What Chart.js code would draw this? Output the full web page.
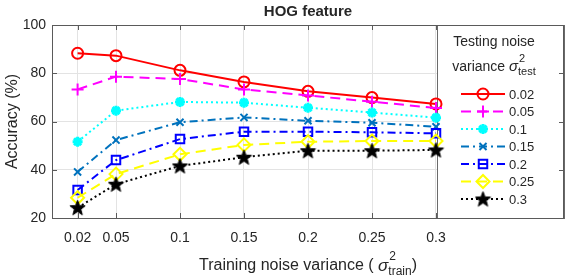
<!DOCTYPE html>
<html><head><meta charset="utf-8">
<script src="https://cdn.jsdelivr.net/npm/chart.js@4"></script>
<style>html,body{margin:0;padding:0;background:#fff;}#wrap{width:573px;height:276px;}</style>
</head><body><div id="wrap"><canvas id="c" width="573" height="276"></canvas></div>
<script>
// ---- data ----
const trainVar = [0.02, 0.05, 0.1, 0.15, 0.2, 0.25, 0.3];
const testVarLabels = ['0.02', '0.05', '0.1', '0.15', '0.2', '0.25', '0.3'];
const yTicks = [20, 40, 60, 80, 100];
const acc_002 = [88.3, 87.3, 81.2, 76.4, 72.5, 69.9, 67.3];
const acc_005 = [73.3, 78.6, 77.6, 73.3, 70.8, 68.2, 65.6];
const acc_01  = [51.6, 64.5, 68.1, 67.8, 65.7, 63.7, 61.6];
const acc_015 = [39.1, 52.3, 59.7, 61.7, 60.3, 59.5, 57.8];
const acc_02  = [31.6, 44.0, 52.7, 55.8, 55.8, 55.5, 55.1];
const acc_025 = [28.4, 38.2, 46.4, 50.3, 51.6, 51.9, 51.9];
const acc_03  = [24.3, 34.0, 41.6, 45.2, 47.9, 47.9, 48.2];
const chartTitle = 'HOG feature';
const yTitle = 'Accuracy (%)';

const FONT = "'Liberation Sans', Arial, Helvetica, sans-serif";
const TXT = '#262626';

// pentagram marker
function makePentagram(size, color) {
  const cv = document.createElement('canvas');
  cv.width = size; cv.height = size;
  const g = cv.getContext('2d');
  const cx = size / 2, cy = size / 2 + 0.6, R = size / 2 - 0.5, r = R * 0.42;
  g.beginPath();
  for (let i = 0; i < 10; i++) {
    const a = -Math.PI / 2 + i * Math.PI / 5;
    const rr = i % 2 === 0 ? R : r;
    const px = cx + rr * Math.cos(a), py = cy + rr * Math.sin(a);
    if (i === 0) g.moveTo(px, py); else g.lineTo(px, py);
  }
  g.closePath();
  g.fillStyle = color; g.fill();
  g.strokeStyle = color; g.lineWidth = 1; g.stroke();
  return cv;
}
const starImg = makePentagram(17, '#000');

const series = [
  {label: testVarLabels[0], data: acc_002, color: '#ff0000', dash: [], ps: 'circle', r: 5.5, bw: 2},
  {label: testVarLabels[1], data: acc_005, color: '#ff00ff', dash: [10, 6], ps: 'cross', r: 6, bw: 2},
  {label: testVarLabels[2], data: acc_01,  color: '#00ffff', dash: [2, 3], ps: 'star', r: 5, bw: 3},
  {label: testVarLabels[3], data: acc_015, color: '#0072bd', dash: [8, 4, 2, 4], ps: 'crossRot', r: 5, bw: 2},
  {label: testVarLabels[4], data: acc_02,  color: '#0000ff', dash: [8, 4, 2, 4], ps: 'rect', r: 6, bw: 2},
  {label: testVarLabels[5], data: acc_025, color: '#ffff00', dash: [10, 6], ps: 'rectRot', r: 6.5, bw: 2},
  {label: testVarLabels[6], data: acc_03,  color: '#000000', dash: [2, 3], ps: starImg, r: 8, bw: 1},
];

const datasets = series.map((s, i) => ({
  label: s.label,
  data: trainVar.map((x, j) => ({x: x, y: s.data[j]})),
  borderColor: s.color,
  backgroundColor: 'rgba(0,0,0,0)',
  borderWidth: 2,
  borderDash: s.dash,
  pointStyle: s.ps,
  pointRadius: s.r,
  pointBorderWidth: s.bw,
  pointBorderColor: s.color,
  pointBackgroundColor: s.color === '#00ffff' ? s.color : 'rgba(0,0,0,0)',
  tension: 0,
  fill: false,
  order: series.length - i
}));

function legendLeft(ca) { return ca.right - 127; }

const overlay = {
  id: 'overlay',
  beforeDatasetsDraw(chart) {
    const ctx = chart.ctx, ca = chart.chartArea;
    const lx = legendLeft(ca);
    ctx.save();
    ctx.fillStyle = '#fff';
    ctx.fillRect(lx, ca.top, ca.right - lx, ca.bottom - ca.top);
    ctx.strokeStyle = '#6a6a6a'; ctx.lineWidth = 1;
    ctx.strokeRect(Math.round(lx) + 0.5, Math.round(ca.top) + 0.5, Math.round(ca.right - lx), Math.round(ca.bottom - ca.top));
    ctx.restore();
  },
  afterDraw(chart) {
    const ctx = chart.ctx, ca = chart.chartArea;
    const xs = chart.scales.x, ys = chart.scales.y;
    ctx.save();
    const lx = legendLeft(ca);
    ctx.strokeStyle = '#5a5a5a'; ctx.lineWidth = 1;
    // axes box
    ctx.strokeRect(Math.round(ca.left) + 0.5, Math.round(ca.top) + 0.5, Math.round(ca.right - ca.left) - 1, Math.round(ca.bottom - ca.top));
    // inward ticks
    ctx.beginPath();
    xs.ticks.forEach(t => {
      const px = Math.round(xs.getPixelForValue(t.value)) + 0.5;
      ctx.moveTo(px, ca.bottom); ctx.lineTo(px, ca.bottom - 5);
      ctx.moveTo(px, ca.top); ctx.lineTo(px, ca.top + 5);
    });
    ys.ticks.forEach(t => {
      const py = Math.round(ys.getPixelForValue(t.value)) + 0.5;
      ctx.moveTo(ca.left, py); ctx.lineTo(ca.left + 5, py);
      ctx.moveTo(ca.right, py); ctx.lineTo(ca.right - 5, py);
    });
    ctx.stroke();

    // legend header
    ctx.fillStyle = TXT;
    ctx.textBaseline = 'middle';
    ctx.textAlign = 'center';
    ctx.font = '14px ' + FONT;
    const lcx = lx + 57;
    ctx.fillText('Testing noise', lcx, ca.top + 17);
    ctx.textAlign = 'left';
    const part1 = 'variance ';
    ctx.font = '14px ' + FONT;
    const w1 = ctx.measureText(part1).width;
    ctx.font = 'italic 15px ' + FONT;
    const ws = ctx.measureText('σ').width;
    ctx.font = '11px ' + FONT;
    const wt = ctx.measureText('test').width;
    let sx = lcx - (w1 + ws + wt) / 2;
    const vy = ca.top + 42;
    ctx.font = '14px ' + FONT; ctx.fillText(part1, sx, vy); sx += w1;
    ctx.font = 'italic 15px ' + FONT; ctx.fillText('σ', sx, vy); sx += ws;
    ctx.font = '11px ' + FONT; ctx.fillText('2', sx + 1, vy - 8); ctx.fillText('test', sx, vy + 5);

    // legend entries
    chart.data.datasets.forEach((ds, i) => {
      const y = ca.top + 69 + i * 17.5;
      const x0 = lx + 24, x1 = lx + 68, xm = (x0 + x1) / 2;
      ctx.save();
      ctx.strokeStyle = ds.borderColor; ctx.lineWidth = ds.borderWidth;
      ctx.setLineDash(ds.borderDash);
      ctx.beginPath(); ctx.moveTo(x0, y); ctx.lineTo(x1, y); ctx.stroke();
      ctx.setLineDash([]);
      ctx.strokeStyle = ds.pointBorderColor; ctx.fillStyle = ds.pointBackgroundColor;
      ctx.lineWidth = ds.pointBorderWidth;
      Chart.helpers.drawPoint(ctx, {pointStyle: ds.pointStyle, radius: ds.pointRadius, borderWidth: ds.pointBorderWidth, rotation: 0}, xm, y);
      ctx.restore();
      ctx.fillStyle = TXT; ctx.font = '13px ' + FONT; ctx.textAlign = 'left';
      ctx.fillText(ds.label, x1 + 4, y + 1);
    });

    // chart title
    ctx.fillStyle = TXT;
    ctx.textAlign = 'center';
    ctx.font = 'bold 15px ' + FONT;
    ctx.fillText(chartTitle, (ca.left + ca.right) / 2, 12);

    // y title
    ctx.save();
    ctx.translate(13, (ca.top + ca.bottom) / 2);
    ctx.rotate(-Math.PI / 2);
    ctx.font = '16px ' + FONT;
    ctx.fillText(yTitle, 0, 0);
    ctx.restore();

    // x title
    const a = 'Training noise variance ( ', b = ')';
    ctx.font = '16px ' + FONT; const wa = ctx.measureText(a).width, wb = ctx.measureText(b).width;
    ctx.font = 'italic 17px ' + FONT; const wsg = ctx.measureText('σ').width;
    ctx.font = '12px ' + FONT; const wtr = ctx.measureText('train').width;
    const total = wa + wsg + wtr + wb;
    let tx = (ca.left + ca.right) / 2 - total / 2;
    const ty = 266;
    ctx.textAlign = 'left';
    ctx.font = '16px ' + FONT; ctx.fillText(a, tx, ty); tx += wa;
    ctx.font = 'italic 17px ' + FONT; ctx.fillText('σ', tx, ty); tx += wsg;
    ctx.font = '12px ' + FONT; ctx.fillText('2', tx + 1, ty - 9); ctx.fillText('train', tx, ty + 6); tx += wtr;
    ctx.font = '16px ' + FONT; ctx.fillText(b, tx, ty);
    ctx.restore();
  }
};

new Chart(document.getElementById('c'), {
  type: 'line',
  data: {datasets: datasets},
  options: {
    responsive: false,
    animation: false,
    devicePixelRatio: 1,
    layout: {padding: {left: 0, right: 5, top: 25, bottom: 0}},
    plugins: {legend: {display: false}, title: {display: false}, tooltip: {enabled: false}},
    scales: {
      x: {
        type: 'linear', min: 0, max: 0.4,
        afterBuildTicks: s => { s.ticks = trainVar.map(v => ({value: v})); },
        afterFit: s => { s.height = 58; },
        grid: {color: '#e3e3e3', drawTicks: false, lineWidth: 1},
        border: {display: false},
        ticks: {autoSkip: false, maxRotation: 0, padding: 12, color: TXT, font: {family: FONT, size: 14},
                callback: v => String(v)}
      },
      y: {
        min: 20, max: 100,
        afterBuildTicks: s => { s.ticks = yTicks.map(v => ({value: v})); },
        afterFit: s => { s.width = 52; },
        grid: {color: '#e3e3e3', drawTicks: false, lineWidth: 1},
        border: {display: false},
        ticks: {padding: 6, color: TXT, font: {family: FONT, size: 14}}
      }
    }
  },
  plugins: [overlay]
});
</script></body></html>
